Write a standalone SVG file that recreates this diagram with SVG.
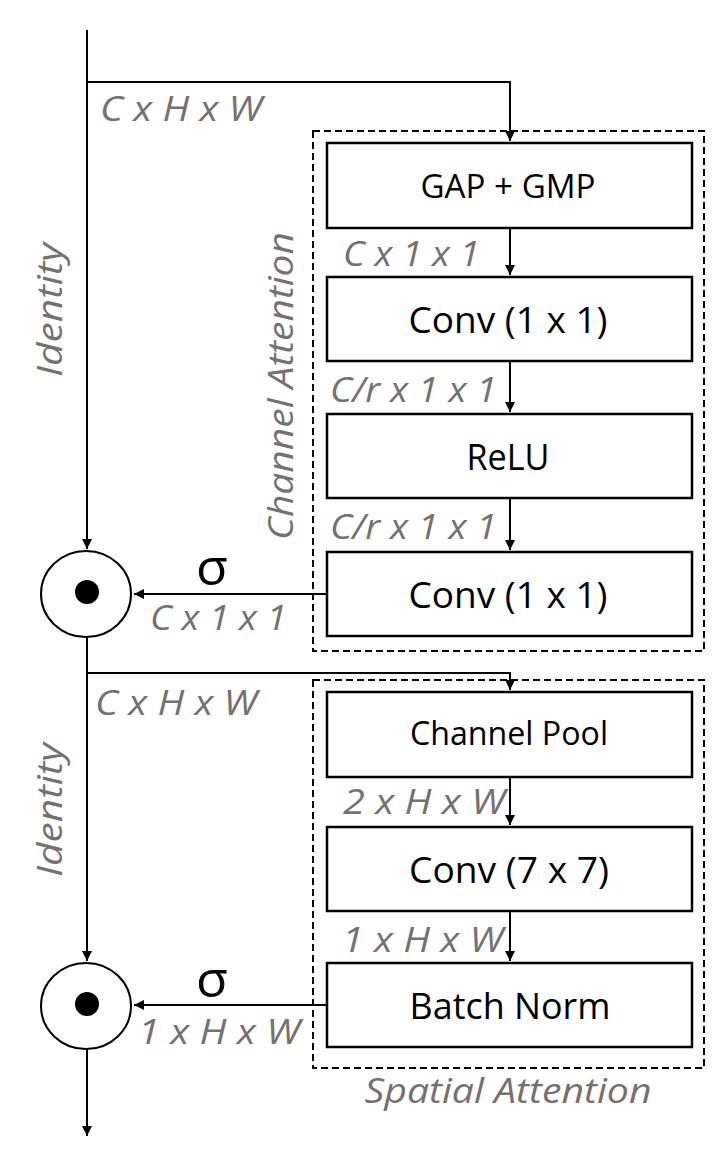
<svg xmlns="http://www.w3.org/2000/svg" width="720" height="1152" viewBox="0 0 720 1152">
<style>
.box{fill:#fff;stroke:#000;stroke-width:2.5}
.dash{fill:none;stroke:#000;stroke-width:2;stroke-dasharray:7 4}
.ln{fill:none;stroke:#000;stroke-width:2}
.t{font-family:"Open Sans","Noto Sans",sans-serif;fill:#000;text-anchor:middle}
.g{font-family:"Open Sans","Noto Sans",sans-serif;fill:#767171;font-style:italic;font-size:35px}
.sig{font-family:"Open Sans","DejaVu Sans",sans-serif;fill:#000;font-size:52px;text-anchor:middle}
</style>
<defs>
<marker id="ah" viewBox="0 0 10 10" refX="10" refY="5" markerWidth="5" markerHeight="5" markerUnits="strokeWidth" orient="auto">
<path d="M0,0 L10,5 L0,10 z" fill="#000"/>
</marker>
</defs>
<rect width="720" height="1152" fill="#fff"/>
<g id="groups">
<rect class="dash" x="313" y="131" width="391" height="520"/>
<rect class="dash" x="313" y="680" width="391" height="388"/>
</g>
<g id="connectors">
<path class="ln" d="M87,30 V549" marker-end="url(#ah)"/>
<path class="ln" d="M87,82 H510 V141" marker-end="url(#ah)"/>
<path class="ln" d="M510,228 V275" marker-end="url(#ah)"/>
<path class="ln" d="M510,361 V412" marker-end="url(#ah)"/>
<path class="ln" d="M510,498 V550" marker-end="url(#ah)"/>
<path class="ln" d="M327,594 H134" marker-end="url(#ah)"/>
<path class="ln" d="M87,637 V961" marker-end="url(#ah)"/>
<path class="ln" d="M87,673 H510 V690" marker-end="url(#ah)"/>
<path class="ln" d="M510,777 V825" marker-end="url(#ah)"/>
<path class="ln" d="M510,911 V961" marker-end="url(#ah)"/>
<path class="ln" d="M327,1005 H134" marker-end="url(#ah)"/>
<path class="ln" d="M87,1049 V1136" marker-end="url(#ah)"/>
</g>
<g id="gap"><rect class="box" x="327" y="143" width="365" height="85"/><text class="t" x="508" y="198" font-size="32" textLength="175" lengthAdjust="spacingAndGlyphs">GAP + GMP</text></g>
<g id="conv1"><rect class="box" x="327" y="277" width="365" height="84"/><text class="t" x="508" y="333" font-size="36" textLength="199" lengthAdjust="spacingAndGlyphs">Conv (1 x 1)</text></g>
<g id="relu"><rect class="box" x="327" y="414" width="365" height="84"/><text class="t" x="508" y="470" font-size="36" textLength="83" lengthAdjust="spacingAndGlyphs">ReLU</text></g>
<g id="conv2"><rect class="box" x="327" y="552" width="365" height="84"/><text class="t" x="508" y="608" font-size="36" textLength="199" lengthAdjust="spacingAndGlyphs">Conv (1 x 1)</text></g>
<g id="cpool"><rect class="box" x="327" y="692" width="365" height="85"/><text class="t" x="509" y="745" font-size="32" textLength="198" lengthAdjust="spacingAndGlyphs">Channel Pool</text></g>
<g id="conv7"><rect class="box" x="327" y="827" width="365" height="84"/><text class="t" x="509" y="883" font-size="36" textLength="200" lengthAdjust="spacingAndGlyphs">Conv (7 x 7)</text></g>
<g id="bn"><rect class="box" x="327" y="963" width="365" height="84"/><text class="t" x="510" y="1019" font-size="36" textLength="201" lengthAdjust="spacingAndGlyphs">Batch Norm</text></g>
<g id="mul1"><ellipse cx="86" cy="594" rx="45" ry="43" fill="#fff" stroke="#000" stroke-width="2"/><circle cx="87" cy="592" r="12" fill="#000"/></g>
<g id="mul2"><ellipse cx="86" cy="1006" rx="45" ry="43" fill="#fff" stroke="#000" stroke-width="2"/><circle cx="87" cy="1004" r="12" fill="#000"/></g>
<g id="labels">
<text class="g" x="100" y="121" textLength="162" lengthAdjust="spacingAndGlyphs">C x H x W</text>
<text class="g" x="343" y="266" textLength="137" lengthAdjust="spacingAndGlyphs">C x 1 x 1</text>
<text class="g" x="330" y="402" textLength="167" lengthAdjust="spacingAndGlyphs">C/r x 1 x 1</text>
<text class="g" x="330" y="539" textLength="167" lengthAdjust="spacingAndGlyphs">C/r x 1 x 1</text>
<text class="g" x="150" y="630" textLength="137" lengthAdjust="spacingAndGlyphs">C x 1 x 1</text>
<text class="g" x="95" y="715" textLength="162" lengthAdjust="spacingAndGlyphs">C x H x W</text>
<text class="g" x="343" y="814" textLength="162" lengthAdjust="spacingAndGlyphs">2 x H x W</text>
<text class="g" x="342" y="952" textLength="161" lengthAdjust="spacingAndGlyphs">1 x H x W</text>
<text class="g" x="138" y="1044" textLength="162" lengthAdjust="spacingAndGlyphs">1 x H x W</text>
<text class="sig" x="212" y="585">σ</text>
<text class="sig" x="212" y="997">σ</text>
<text class="g" x="508" y="1103" text-anchor="middle" textLength="287" lengthAdjust="spacingAndGlyphs">Spatial Attention</text>
<text class="g" transform="translate(62,310) rotate(-90)" text-anchor="middle" font-size="37" textLength="134" lengthAdjust="spacingAndGlyphs">Identity</text>
<text class="g" transform="translate(62,810) rotate(-90)" text-anchor="middle" font-size="37" textLength="134" lengthAdjust="spacingAndGlyphs">Identity</text>
<text class="g" transform="translate(293,386) rotate(-90)" text-anchor="middle" font-size="37" textLength="308" lengthAdjust="spacingAndGlyphs">Channel Attention</text>
</g>
</svg>
